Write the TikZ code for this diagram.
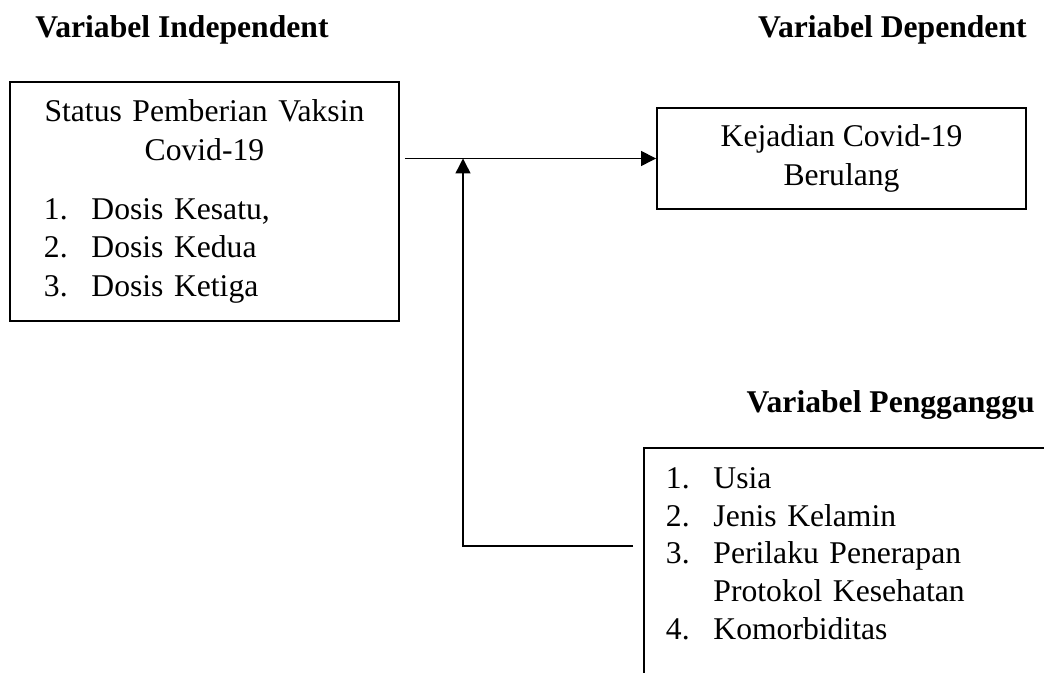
\documentclass[tikz,border=0pt]{standalone}
\usepackage{fontspec}
\setmainfont{Liberation Serif}
\usetikzlibrary{arrows.meta, positioning, calc}

\begin{document}
\begin{tikzpicture}[
    kotak/.style={draw, line width=1.1pt, font=\fontsize{18}{22}\selectfont},
    judul/.style={font=\fontsize{18}{22}\selectfont\bfseries, inner sep=0pt},
    panah/.style={line width=0.8pt, -{Triangle[length=0.3cm, width=0.3cm]}}
  ]
  \useasboundingbox (0,0) rectangle (20.88,13.46);
  \clip (0,0) rectangle (20.88,13.46);

  % Headings
  \node[judul, anchor=west] (judulbebas) at (0.7, 12.86) {Variabel Independent};
  \node[judul, anchor=east] (judulterikat) at (20.54, 12.86) {Variabel Dependent};
  \node[judul, anchor=east] (judulganggu) at (20.7, 5.36) {Variabel Pengganggu};

  % Independent variable
  \node[kotak, anchor=north west, text width=6.42cm, inner xsep=0.68cm, minimum height=4.78cm, align=left] (vaksin) at (0.18, 11.84) {
    {\centering Status Pemberian Vaksin\\Covid-19\par}\vspace{0.4cm}
    \noindent\makebox[0.95cm][l]{1.}Dosis Kesatu,\\
    \makebox[0.95cm][l]{2.}Dosis Kedua\\
    \makebox[0.95cm][l]{3.}Dosis Ketiga
  };

  % Dependent variable
  \node[kotak, minimum width=7.38cm, minimum height=2.02cm, align=center] (kejadian) at (16.83, 10.29) {
    Kejadian Covid-19\\Berulang
  };

  % Confounders (box runs off the page)
  \node[kotak, font=\fontsize{18}{21.5}\selectfont, anchor=north west, text width=9cm, inner xsep=0.44cm, inner ysep=0.39cm, align=left] (faktor) at (12.86, 4.52) {
    \makebox[0.95cm][l]{1.}Usia\\
    \makebox[0.95cm][l]{2.}Jenis Kelamin\\
    \makebox[0.95cm][l]{3.}Perilaku Penerapan\\
    \hspace*{0.95cm}Protokol Kesehatan\\
    \makebox[0.95cm][l]{4.}Komorbiditas\\[3cm]
    \mbox{}
  };

  % Arrows
  \coordinate (simpang) at (9.26, 2.54);
  \draw[panah] ($(vaksin.east |- kejadian.west)+(0.1,0)$) -- (kejadian.west);
  \draw[panah] ($(faktor.west |- simpang)+(-0.2,0)$) -- (simpang) -- (simpang |- kejadian.west);
\end{tikzpicture}
\end{document}
